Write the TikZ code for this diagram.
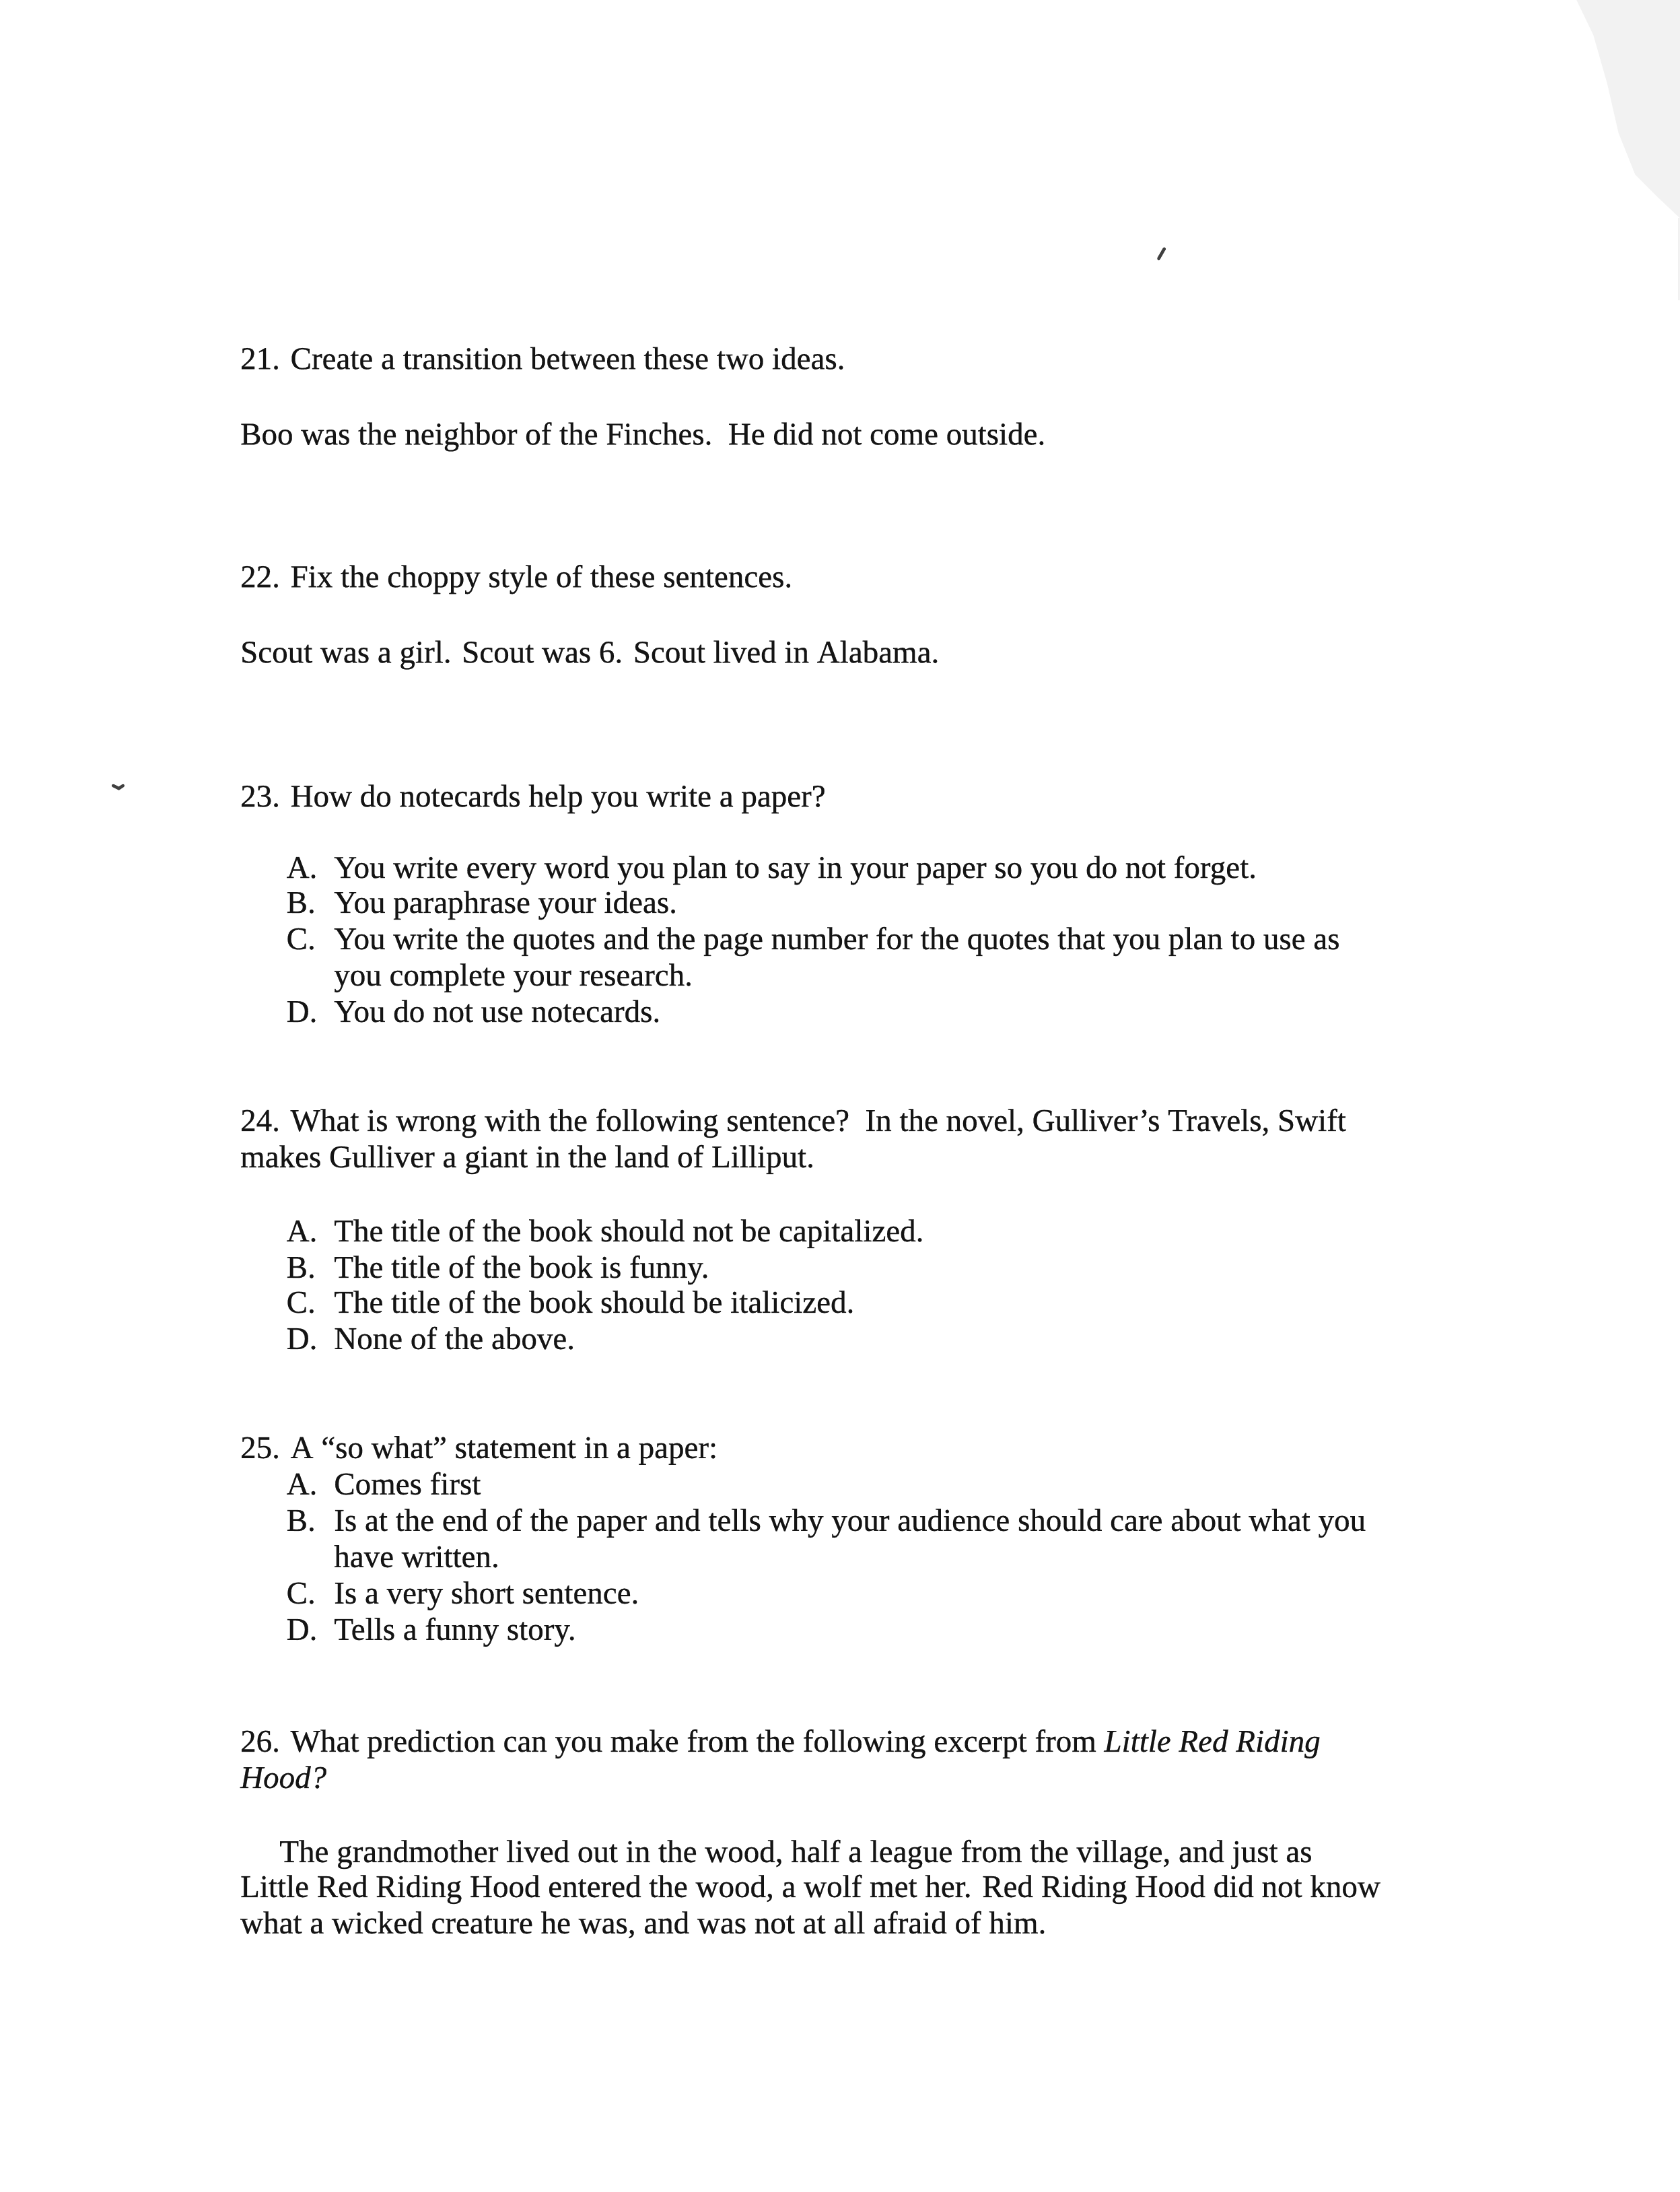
\documentclass[tikz,border=0pt]{standalone}
\usepackage{fontspec}
\setmainfont{Liberation Serif}
\newfontfamily\scanfont{Liberation Serif}[FakeBold=0.5,ItalicFeatures={FakeBold=0.5}]
\begin{document}
\begin{tikzpicture}[x=0.5pt,y=-0.5pt,
  txt/.style={anchor=base west,inner sep=0pt,outer sep=0pt,text=black!92,font=\scanfont\fontsize{11.32}{13}\selectfont},
  speck/.style={line width=1.1pt,black!75,line cap=round}]
\useasboundingbox[fill=white] (0,0) rectangle (1202,1568);
% faint scanner shadow at the top-right corner
\fill[black!5] (1128,0) -- (1140,25) -- (1150,60) -- (1158,95) -- (1170,125) -- (1185,140) -- (1202,156) -- (1202,0) -- cycle;
\draw[black!20,line width=0.4pt] (1201.3,156) -- (1201.3,215);
% specks
\draw[speck] (833,178) -- (829,185);
\draw[speck] (81,562) -- (85,564) -- (88,562);
% question 21
\node[txt] (q21) at (172,264) {21. Create a transition between these two ideas.};
\node[txt] (q21a) at (172,318) {Boo was the neighbor of the Finches.\ \ He did not come outside.};
% question 22
\node[txt] (q22) at (172,420) {22. Fix the choppy style of these sentences.};
\node[txt] (q22a) at (172,474) {Scout was a girl. Scout was 6. Scout lived in Alabama.};
% question 23
\node[txt] (q23) at (172,577) {23. How do notecards help you write a paper?};
\node[txt] (q23A) at (205,628) {A.};
\node[txt] (q23At) at (239,628) {You write every word you plan to say in your paper so you do not forget.};
\node[txt] (q23B) at (205,653) {B.};
\node[txt] (q23Bt) at (239,653) {You paraphrase your ideas.};
\node[txt] (q23C) at (205,679) {C.};
\node[txt] (q23Ct) at (239,679) {You write the quotes and the page number for the quotes that you plan to use as};
\node[txt] (q23Cu) at (239,705) {you complete your research.};
\node[txt] (q23D) at (205,731) {D.};
\node[txt] (q23Dt) at (239,731) {You do not use notecards.};
% question 24
\node[txt] (q24) at (172,809) {24. What is wrong with the following sentence?\ \ In the novel, Gulliver’s Travels, Swift};
\node[txt] (q24b) at (172,835) {makes Gulliver a giant in the land of Lilliput.};
\node[txt] (q24A) at (205,888) {A.};
\node[txt] (q24At) at (239,888) {The title of the book should not be capitalized.};
\node[txt] (q24B) at (205,914) {B.};
\node[txt] (q24Bt) at (239,914) {The title of the book is funny.};
\node[txt] (q24C) at (205,939) {C.};
\node[txt] (q24Ct) at (239,939) {The title of the book should be italicized.};
\node[txt] (q24D) at (205,965) {D.};
\node[txt] (q24Dt) at (239,965) {None of the above.};
% question 25
\node[txt] (q25) at (172,1043) {25. A “so what” statement in a paper:};
\node[txt] (q25A) at (205,1069) {A.};
\node[txt] (q25At) at (239,1069) {Comes first};
\node[txt] (q25B) at (205,1095) {B.};
\node[txt] (q25Bt) at (239,1095) {Is at the end of the paper and tells why your audience should care about what you};
\node[txt] (q25Bu) at (239,1121) {have written.};
\node[txt] (q25C) at (205,1147) {C.};
\node[txt] (q25Ct) at (239,1147) {Is a very short sentence.};
\node[txt] (q25D) at (205,1173) {D.};
\node[txt] (q25Dt) at (239,1173) {Tells a funny story.};
% question 26
\node[txt] (q26) at (172,1253) {26. What prediction can you make from the following excerpt from \textit{Little Red Riding}};
\node[txt] (q26b) at (172,1279) {\textit{Hood?}};
\node[txt] (p1) at (200,1332) {The grandmother lived out in the wood, half a league from the village, and just as};
\node[txt] (p2) at (172,1357) {Little Red Riding Hood entered the wood, a wolf met her. Red Riding Hood did not know};
\node[txt] (p3) at (172,1383) {what a wicked creature he was, and was not at all afraid of him.};
\end{tikzpicture}
\end{document}
